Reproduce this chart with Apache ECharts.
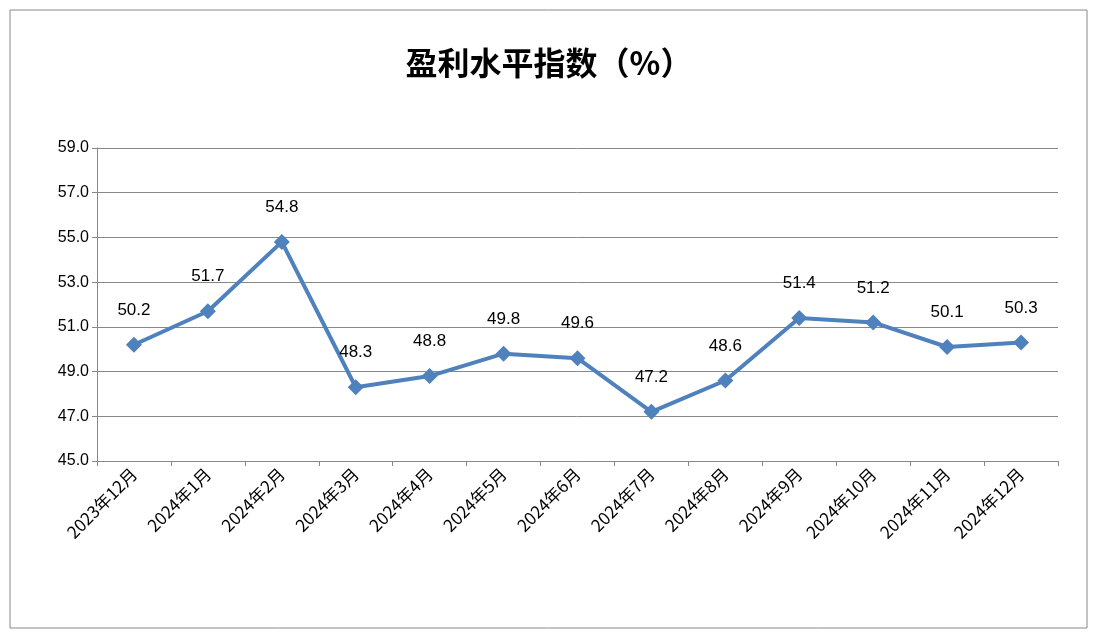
<!DOCTYPE html><html><head><meta charset="utf-8"><script src="https://cdn.jsdelivr.net/npm/echarts@6/dist/echarts.min.js"></script>
<style>body{margin:0;background:#fff}#c{width:1098px;height:639px}</style></head><body><div id="c"></div><script>
const categories=['2023年12月','2024年1月','2024年2月','2024年3月','2024年4月','2024年5月','2024年6月','2024年7月','2024年8月','2024年9月','2024年10月','2024年11月','2024年12月'];
const values=[50.2,51.7,54.8,48.3,48.8,49.8,49.6,47.2,48.6,51.4,51.2,50.1,50.3];
const c=echarts.init(document.getElementById('c'));
c.setOption({
graphic:[{type:'rect',shape:{x:10,y:10,width:1077,height:618},style:{fill:'none',stroke:'#888',lineWidth:1}}],
title:{text:'盈利水平指数（%）',left:'center',top:42,textStyle:{fontSize:32,fontWeight:'bold',color:'#000',fontFamily:'Noto Sans CJK SC'}},
grid:{left:97,right:40,top:148,bottom:178},
xAxis:{type:'category',data:categories,axisLine:{lineStyle:{color:'#888'}},axisTick:{show:true,lineStyle:{color:'#888'}},
axisLabel:{rotate:45,color:'#000',fontSize:17,interval:0,fontFamily:'Noto Sans CJK SC',margin:10}},
yAxis:{type:'value',min:45,max:59,interval:2,axisLine:{show:true,lineStyle:{color:'#888'}},axisTick:{show:true,lineStyle:{color:'#888'}},
splitLine:{lineStyle:{color:'#888'}},axisLabel:{color:'#000',fontSize:16,formatter:v=>v.toFixed(1)}},
series:[{type:'line',data:values,symbol:'diamond',symbolSize:16,itemStyle:{color:'#4f81bd'},lineStyle:{color:'#4f81bd',width:4},
label:{show:true,position:'top',distance:18,color:'#000',fontSize:17,formatter:p=>p.value.toFixed(1)}}]
});
</script></body></html>
